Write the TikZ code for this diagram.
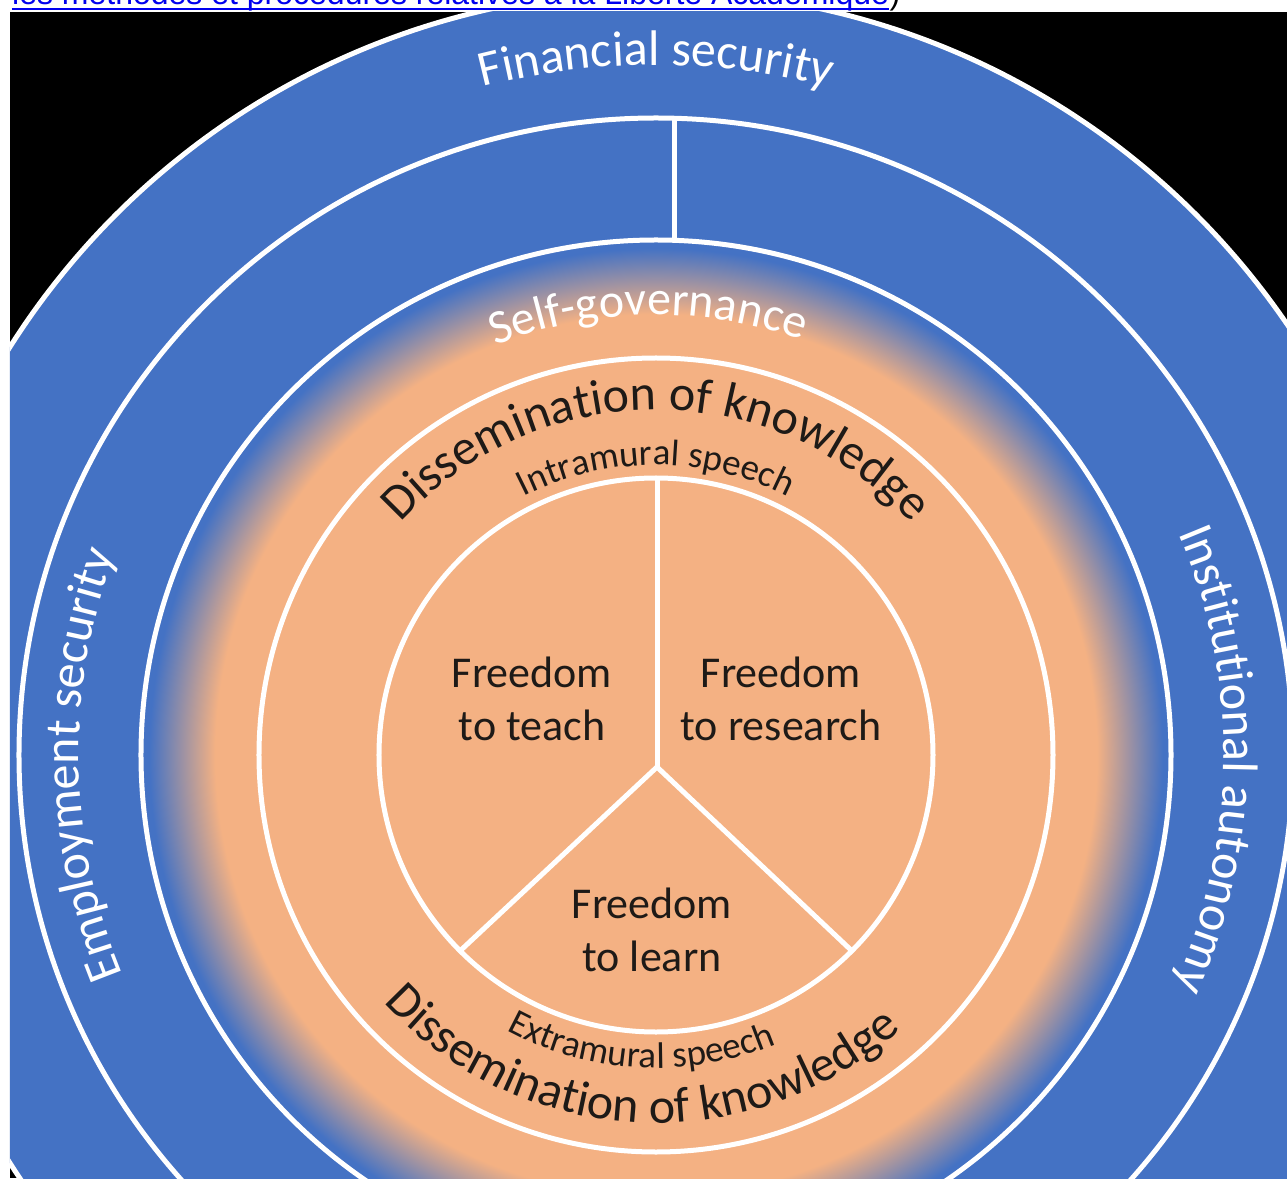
\documentclass[tikz,border=0pt]{standalone}
\usepackage{fontspec}
\setmainfont{Carlito}
\newfontfamily\liensfont{Liberation Sans}
\usetikzlibrary{decorations.text}

\definecolor{bleu}{HTML}{4472C4}
\definecolor{peche}{HTML}{F4B183}
\definecolor{lien}{HTML}{0000EE}
\definecolor{encre}{HTML}{1E1A17}

\pgfdeclareradialshading{halo}{\pgfpoint{0bp}{0bp}}{color(0bp)=(peche); color(21.4bp)=(peche); color(24.6bp)=(bleu); color(50bp)=(bleu)}

\newcommand{\fanneau}{\fontsize{50}{60}\selectfont\color{white}}
\newcommand{\fgouv}{\fontsize{48}{58}\selectfont\color{white}}
\newcommand{\fdiffusion}{\fontsize{50}{60}\selectfont\color{encre}}
\newcommand{\fdiscours}{\fontsize{37}{44}\selectfont\color{encre}}

\begin{document}
\begin{tikzpicture}[x=1pt, y=1pt,
    trait/.style={white, line width=5pt},
    etiquette/.style={decorate, decoration={text along path, text align=center, text={#1}}},
    liberte/.style={align=center, inner sep=0pt, text=encre, font=\fontsize{44}{53}\selectfont}]
    \useasboundingbox (-656,-423) rectangle (631,755);
    \fill[white] (-656,-423) rectangle (631,755);
    \fill[black] (-646,-423) rectangle (631,743);

    % Lien coupe en haut
    \begin{scope}
        \clip (-656,743) rectangle (631,755);
        \node[anchor=base west, inner sep=0pt, text=lien, font=\liensfont\fontsize{32}{38}\selectfont] (lien) at (-644,750) {les méthodes et procédures relatives à la Liberté Académique};
        \node[anchor=base west, inner sep=0pt, font=\liensfont\fontsize{32}{38}\selectfont] (parenthese) at (lien.base east) {)};
        \draw[lien, line width=2.5pt] ([yshift=-4pt]lien.base west) -- ([yshift=-4pt]lien.base east);
    \end{scope}

    % Anneaux
    \begin{scope}
        \clip (-646,-423) rectangle (631,743);
        \filldraw[fill=bleu, draw=white, line width=5pt] (0,0) circle (764);
        \shade[shading=halo] (0,0) circle (515);
        \draw[trait] (0,0) circle (637);
        \draw[trait] (0,0) circle (515);
        \draw[trait] (0,0) circle (397);
        \draw[trait] (0,0) circle (277);
    \end{scope}

    % Separations
    \coordinate (centre) at (1,-12);
    \coordinate (haut) at (1,277);
    \coordinate (gauche) at (225:277);
    \coordinate (droite) at (-45:277);
    \draw[trait] (centre) -- (haut);
    \draw[trait] (centre) -- (gauche);
    \draw[trait] (centre) -- (droite);
    \draw[trait] (18,515) -- (18,637);

    % Textes courbes
    \path[etiquette={|\fanneau|Financial security}] (130:690) arc[start angle=130, end angle=50, radius=690];
    \path[etiquette={|\fanneau|Employment security}] (221:577) arc[start angle=221, end angle=141, radius=577];
    \path[etiquette={|\fanneau|Institutional autonomy}] (40:568) arc[start angle=40, end angle=-41, radius=568];
    \path[etiquette={|\fgouv|Self-governance}] (131:440) arc[start angle=131, end angle=51, radius=440];
    \path[etiquette={|\fdiffusion|Dissemination of knowledge}] (160:345) arc[start angle=160, end angle=20, radius=345];
    \path[etiquette={|\fdiscours|Intramural speech}] (150:290) arc[start angle=150, end angle=30, radius=290];
    \path[etiquette={|\fdiscours|Extramural speech}] (-153:313) arc[start angle=-153, end angle=-33, radius=313];
    \path[etiquette={|\fdiffusion|Dissemination of knowledge}] (-168:368) arc[start angle=-168, end angle=-18, radius=368];

    % Libertes
    \node[liberte] (enseigner) at (-124,56) {Freedom\\to teach};
    \node[liberte] (chercher) at (125,56) {Freedom\\to research};
    \node[liberte] (apprendre) at (-4,-175) {Freedom\\to learn};
\end{tikzpicture}
\end{document}
